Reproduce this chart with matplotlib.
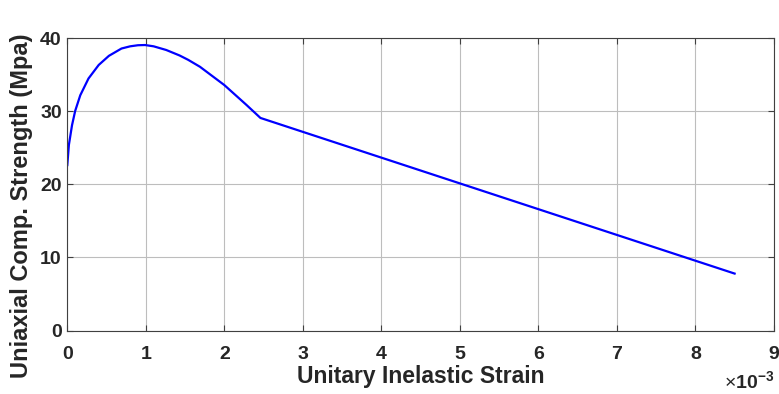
import matplotlib.pyplot as plt

# strain values (x 1e-3) and stress (MPa)
strain = [0.0, 0.02, 0.06, 0.10, 0.165, 0.27, 0.40, 0.53, 0.69, 0.80, 0.90, 0.99,
          1.10, 1.26, 1.43, 1.54, 1.69, 2.0, 2.28, 2.46, 8.5]
stress = [22.65, 25.4, 28.1, 30.05, 32.2, 34.5, 36.35, 37.6, 38.6, 38.9, 39.05, 39.08,
          38.9, 38.4, 37.65, 37.05, 36.1, 33.6, 30.9, 29.1, 7.8]

xticks = [0, 1, 2, 3, 4, 5, 6, 7, 8, 9]
yticks = [0, 10, 20, 30, 40]

plt.rcParams['font.family'] = ['Liberation Sans', 'DejaVu Sans']
plt.rcParams['mathtext.fontset'] = 'custom'
plt.rcParams['mathtext.rm'] = 'Liberation Sans'
plt.rcParams['mathtext.bf'] = 'Liberation Sans:bold'

fig = plt.figure(figsize=(7.79, 3.94), dpi=100)
ax = fig.add_axes([0.0864, 0.161, 0.907, 0.7418])

ax.plot(strain, stress, color=(0, 0, 1), linewidth=1.6)

ax.set_xlim(0, 9)
ax.set_ylim(0, 40)
ax.set_xticks(xticks)
ax.set_yticks(yticks)
ax.grid(True, color='#bdbdbd', linewidth=0.8)
ax.set_axisbelow(True)
ax.tick_params(direction='in', top=True, right=True, length=4, width=0.8,
               color='#404040', labelsize=14)
ax.tick_params(axis='x', pad=11)
ax.tick_params(axis='y', pad=4)
for lab in ax.get_xticklabels() + ax.get_yticklabels():
    lab.set_fontweight('bold')
    lab.set_color('#262626')
for sp in ax.spines.values():
    sp.set_color('#404040')
    sp.set_linewidth(0.8)

ax.set_xlabel('Unitary Inelastic Strain', fontsize=16.5, fontweight='bold', color='#262626')
ax.set_ylabel('Uniaxial Comp. Strength (Mpa)', fontsize=17, fontweight='bold', color='#262626')
ax.xaxis.set_label_coords(0.5, -0.118)
ax.yaxis.set_label_coords(-0.048, 0.426)
ax.text(1.0, -0.212, r'$\times\mathbf{10^{-3}}$', transform=ax.transAxes, ha='right', va='bottom',
        fontsize=14, color='#262626')

fig.savefig('out.png', dpi=100)
